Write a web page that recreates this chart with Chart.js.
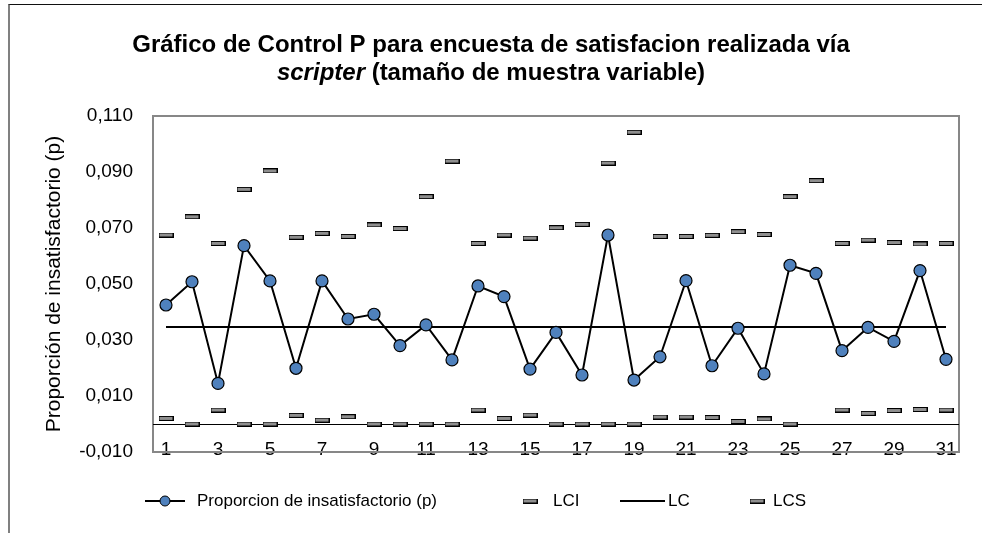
<!DOCTYPE html>
<html lang="es">
<head>
<meta charset="UTF-8">
<title>Gráfico de Control P</title>
<style>
    body { margin: 0; background: #fff; }
    .marco {
        position: absolute;
        left: 8px;
        top: 4px;
        width: 1000px;
        height: 600px;
        border-top: 1px solid #111;
        border-left: 2px solid #808080;
    }
    canvas { position: absolute; left: 0; top: 0; }
</style>
</head>
<body>
<div class="marco"></div>
<canvas id="graficoP" width="982" height="533"></canvas>
<script src="https://cdn.jsdelivr.net/npm/chart.js"></script>
<script>
// Datos
const muestras = ['1','2','3','4','5','6','7','8','9','10','11','12','13','14','15','16',
    '17','18','19','20','21','22','23','24','25','26','27','28','29','30','31'];

const proporcion = [0.0425, 0.0508, 0.0145, 0.0637, 0.0511, 0.0199, 0.0511, 0.0375, 0.0392, 0.0280,
    0.0354, 0.0229, 0.0493, 0.0455, 0.0196, 0.0327, 0.0175, 0.0675, 0.0157, 0.0240,
    0.0512, 0.0208, 0.0342, 0.0179, 0.0567, 0.0538, 0.0262, 0.0345, 0.0295, 0.0548, 0.0231];

const lci = [0.0020, 0, 0.0050, 0, 0, 0.0031, 0.0014, 0.0026, 0, 0,
    0, 0, 0.0050, 0.0020, 0.0032, 0, 0, 0, 0, 0.0025,
    0.0025, 0.0023, 0.0009, 0.0018, 0, null, 0.0050, 0.0038, 0.0048, 0.0052, 0.0050];

const lc = [0.0346, 0.0346, 0.0346, 0.0346, 0.0346, 0.0346, 0.0346, 0.0346, 0.0346, 0.0346,
    0.0346, 0.0346, 0.0346, 0.0346, 0.0346, 0.0346, 0.0346, 0.0346, 0.0346, 0.0346,
    0.0346, 0.0346, 0.0346, 0.0346, 0.0346, 0.0346, 0.0346, 0.0346, 0.0346, 0.0346, 0.0346];

const lcs = [0.0675, 0.0740, 0.0645, 0.0838, 0.0904, 0.0667, 0.0681, 0.0670, 0.0711, 0.0698,
    0.0812, 0.0939, 0.0645, 0.0675, 0.0664, 0.0701, 0.0713, 0.0932, 0.1042, 0.0670,
    0.0670, 0.0674, 0.0687, 0.0677, 0.0812, 0.0869, 0.0645, 0.0657, 0.0648, 0.0643, 0.0645];

const FUENTE = '"Liberation Sans", Arial, sans-serif';
Chart.defaults.font.family = FUENTE;
Chart.defaults.color = '#000';

// marcador en forma de guion para los limites
function crearGuion() {
    const c = document.createElement('canvas');
    c.width = 15;
    c.height = 5;
    const g = c.getContext('2d');
    g.fillStyle = '#000';
    g.fillRect(0, 0, 15, 5);
    g.fillStyle = '#8f8f8f';
    g.fillRect(1, 1, 13, 3);
    return c;
}
const guion = crearGuion();

// marco del area, linea del cero, titulo y leyenda
const extras = {
    id: 'extras',
    beforeDatasetsDraw(chart) {
        const { ctx, chartArea: a, scales: { y } } = chart;
        ctx.save();
        // marco gris (encima de las etiquetas del eje x, como en Excel)
        ctx.strokeStyle = '#878787';
        ctx.lineWidth = 2;
        ctx.strokeRect(a.left, a.top, a.right - a.left, a.bottom - a.top);
        // linea del cero
        const y0 = Math.round(y.getPixelForValue(0)) + 0.5;
        ctx.strokeStyle = '#000';
        ctx.lineWidth = 1;
        ctx.beginPath();
        ctx.moveTo(a.left, y0);
        ctx.lineTo(a.right, y0);
        ctx.stroke();
        ctx.restore();
    },
    afterDraw(chart) {
        const ctx = chart.ctx;
        ctx.save();
        ctx.fillStyle = '#000';
        ctx.textBaseline = 'middle';

        // titulo
        ctx.textAlign = 'center';
        ctx.font = 'bold 24px ' + FUENTE;
        ctx.fillText('Gráfico de Control P para encuesta de satisfacion realizada vía', 491, 45);
        ctx.textAlign = 'left';
        const parte1 = 'scripter';
        const parte2 = ' (tamaño de muestra variable)';
        ctx.font = 'italic bold 24px ' + FUENTE;
        const w1 = ctx.measureText(parte1).width;
        ctx.font = 'bold 24px ' + FUENTE;
        const w2 = ctx.measureText(parte2).width;
        let x = 491 - (w1 + w2) / 2;
        ctx.font = 'italic bold 24px ' + FUENTE;
        ctx.fillText(parte1, x, 73);
        ctx.font = 'bold 24px ' + FUENTE;
        ctx.fillText(parte2, x + w1, 73);

        // leyenda
        const ds = chart.data.datasets;
        const yl = 501;
        ctx.font = '17px ' + FUENTE;
        ctx.strokeStyle = '#000';
        ctx.lineWidth = 2;
        ctx.beginPath();
        ctx.moveTo(145, yl);
        ctx.lineTo(185, yl);
        ctx.stroke();
        ctx.beginPath();
        ctx.arc(165, yl, 5, 0, Math.PI * 2);
        ctx.fillStyle = '#4F81BD';
        ctx.fill();
        ctx.lineWidth = 1;
        ctx.stroke();
        ctx.fillStyle = '#000';
        ctx.fillText(ds[0].label, 197, yl);

        ctx.drawImage(guion, 530 - 7.5, yl - 2.5);
        ctx.fillText(ds[1].label, 553, yl);

        ctx.lineWidth = 2;
        ctx.beginPath();
        ctx.moveTo(620, yl);
        ctx.lineTo(665, yl);
        ctx.stroke();
        ctx.fillText(ds[2].label, 668, yl);

        ctx.drawImage(guion, 757 - 7.5, yl - 2.5);
        ctx.fillText(ds[3].label, 773, yl);
        ctx.restore();
    }
};

const ctx = document.getElementById('graficoP').getContext('2d');
const grafico = new Chart(ctx, {
    type: 'line',
    data: {
        labels: muestras,
        datasets: [
            {
                label: 'Proporcion de insatisfactorio (p)',
                data: proporcion,
                borderColor: '#000',
                borderWidth: 2,
                pointRadius: 6,
                pointBackgroundColor: '#4F81BD',
                pointBorderColor: '#000',
                pointBorderWidth: 1.2,
                tension: 0
            },
            {
                label: 'LCI',
                data: lci,
                showLine: false,
                pointStyle: guion,
                pointRadius: 7
            },
            {
                label: 'LC',
                data: lc,
                borderColor: '#000',
                borderWidth: 2,
                pointRadius: 0
            },
            {
                label: 'LCS',
                data: lcs,
                showLine: false,
                pointStyle: guion,
                pointRadius: 7
            }
        ]
    },
    options: {
        responsive: false,
        animation: false,
        layout: { padding: { top: 116, right: 23, bottom: 61, left: 0 } },
        plugins: {
            legend: { display: false },
            tooltip: { enabled: false }
        },
        scales: {
            x: {
                offset: true,
                grid: { display: false, drawTicks: false },
                border: { display: false },
                ticks: {
                    autoSkip: false,
                    maxRotation: 0,
                    mirror: true,
                    padding: -9,
                    font: { size: 19 },
                    callback: function (v, i) {
                        return i % 2 === 0 ? this.getLabelForValue(v) : '';
                    }
                },
                afterFit(s) { s.height = 20; }
            },
            y: {
                min: -0.01,
                max: 0.11,
                grid: { display: false, drawTicks: false },
                border: { display: false },
                ticks: {
                    stepSize: 0.02,
                    padding: 20,
                    font: { size: 19 },
                    callback: v => v.toFixed(3).replace('.', ',')
                },
                title: {
                    display: true,
                    text: 'Proporción de insatisfactorio (p)',
                    font: { size: 21 },
                    padding: { top: 42, bottom: 0 }
                },
                afterFit(s) { s.width = 153; }
            }
        }
    },
    plugins: [extras]
});
</script>
</body>
</html>
